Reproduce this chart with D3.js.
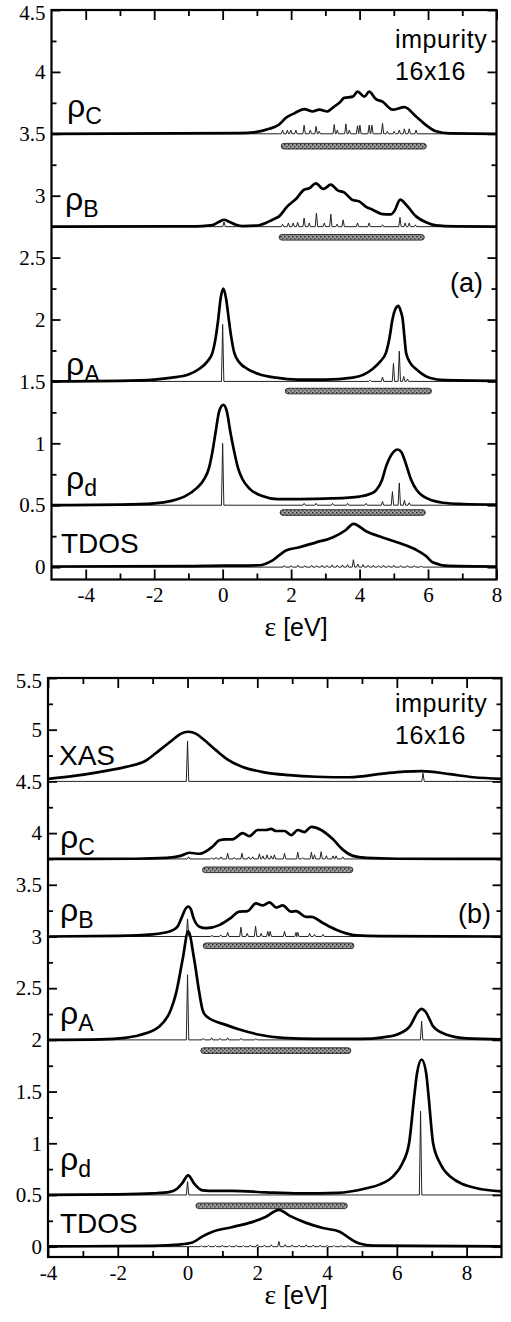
<!DOCTYPE html>
<html>
<head>
<meta charset="utf-8">
<script src="https://cdn.jsdelivr.net/npm/d3@7"></script>
<style>
  body { margin: 0; background: #fff; }
  svg { display: block; }
</style>
</head>
<body>
<svg id="fig" width="511" height="1322"></svg>
<script>
// ---------- tick values ----------
const a_x_major = [-4, -2, 0, 2, 4, 6, 8];
const a_x_minor = [-3, -1, 1, 3, 5, 7];
const a_y_major = [0, 0.5, 1, 1.5, 2, 2.5, 3, 3.5, 4, 4.5];
const a_y_minor = [0.25, 0.75, 1.25, 1.75, 2.25, 2.75, 3.25, 3.75, 4.25];
const b_x_major = [-4, -2, 0, 2, 4, 6, 8];
const b_x_minor = [-3, -1, 1, 3, 5, 7];
const b_y_major = [0, 0.5, 1, 1.5, 2, 2.5, 3, 3.5, 4, 4.5, 5, 5.5];
const b_y_minor = [0.25, 0.75, 1.25, 1.75, 2.25, 2.75, 3.25, 3.75, 4.25, 4.75, 5.25];

// ---------- panel (a) ----------
const a_labels = [["ρ", "C"], ["ρ", "B"], ["ρ", "A"], ["ρ", "d"], ["TDOS", ""]];
const a_base = [3.5, 2.75, 1.5, 0.5, 0];

const a_rhoC = [[-5,3.5],[0.5,3.505],[1.0,3.515],[1.36,3.54],[1.65,3.575],[1.85,3.63],[2.09,3.665],[2.38,3.70],[2.63,3.68],[2.82,3.695],[3.06,3.68],[3.21,3.71],[3.41,3.75],[3.55,3.79],[3.80,3.80],[3.94,3.84],[4.14,3.80],[4.28,3.84],[4.48,3.78],[4.67,3.76],[4.96,3.695],[5.31,3.715],[5.65,3.64],[5.94,3.57],[6.23,3.52],[6.62,3.503],[8,3.5]];
const a_rhoB = [[-5,2.75],[-1.5,2.752],[-0.6,2.755],[-0.3,2.762],[-0.1,2.79],[0.04,2.806],[0.19,2.79],[0.39,2.765],[0.58,2.755],[0.97,2.758],[1.26,2.78],[1.46,2.806],[1.65,2.833],[1.89,2.914],[2.14,2.973],[2.38,3.048],[2.53,3.06],[2.72,3.10],[2.94,3.054],[3.16,3.089],[3.36,3.043],[3.55,3.027],[3.78,2.968],[3.99,2.954],[4.19,2.909],[4.38,2.887],[4.67,2.852],[4.92,2.85],[5.01,2.873],[5.19,2.968],[5.36,2.927],[5.65,2.833],[5.94,2.785],[6.23,2.76],[6.8,2.752],[8,2.75]];
const a_rhoA = [[-5,1.50],[-3,1.505],[-2,1.515],[-1.48,1.53],[-1.0,1.555],[-0.69,1.60],[-0.45,1.66],[-0.30,1.73],[-0.2,1.86],[-0.13,2.0],[-0.06,2.17],[0.02,2.25],[0.1,2.17],[0.18,2.0],[0.25,1.86],[0.34,1.73],[0.5,1.65],[0.73,1.60],[1.05,1.56],[1.56,1.53],[2.2,1.515],[3.0,1.515],[3.8,1.53],[4.38,1.60],[4.6,1.66],[4.77,1.73],[4.88,1.86],[4.96,2.0],[5.04,2.08],[5.13,2.11],[5.2,2.07],[5.26,2.0],[5.31,1.86],[5.36,1.73],[5.48,1.65],[5.65,1.60],[6.04,1.53],[6.5,1.51],[8,1.505]];
const a_rhoD = [[-5,0.50],[-3,0.505],[-2,0.515],[-1.5,0.535],[-1.08,0.575],[-0.75,0.64],[-0.54,0.71],[-0.4,0.80],[-0.30,0.93],[-0.2,1.10],[-0.1,1.26],[0.02,1.31],[0.12,1.26],[0.22,1.10],[0.34,0.93],[0.45,0.80],[0.58,0.71],[0.8,0.63],[1.16,0.575],[1.6,0.55],[2.24,0.55],[3.2,0.555],[4.0,0.57],[4.3,0.59],[4.48,0.62],[4.65,0.70],[4.77,0.81],[4.96,0.92],[5.11,0.95],[5.22,0.93],[5.31,0.87],[5.5,0.71],[5.84,0.575],[6.43,0.52],[7,0.51],[8,0.505]];
const a_tdos = [[-5,0.005],[-1,0.008],[0,0.012],[0.5,0.012],[1.07,0.015],[1.46,0.055],[1.85,0.135],[2.24,0.16],[2.73,0.20],[3.21,0.24],[3.6,0.30],[3.82,0.35],[4.19,0.29],[4.67,0.24],[5.16,0.195],[5.65,0.14],[5.94,0.09],[6.13,0.04],[6.62,0.01],[8,0.005]];

// sharp spectra: [energy, height above baseline]
const a_rhoC_spk = [[1.75,0.03],[1.89,0.03],[1.99,0.03],[2.14,0.03],[2.38,0.07],[2.56,0.03],[2.73,0.06],[2.82,0.02],[3.26,0.075],[3.35,0.03],[3.60,0.08],[3.70,0.03],[3.94,0.065],[4.01,0.07],[4.28,0.07],[4.36,0.07],[4.67,0.085],[4.81,0.02],[5.01,0.02],[5.16,0.03],[5.31,0.04],[5.45,0.04],[5.65,0.03]];
const a_rhoB_spk = [[0.04,0.04],[1.75,0.02],[1.92,0.03],[2.06,0.03],[2.19,0.035],[2.38,0.07],[2.53,0.03],[2.74,0.11],[2.97,0.03],[3.16,0.10],[3.34,0.02],[3.52,0.055],[3.94,0.03],[4.28,0.03],[4.67,0.015],[5.18,0.075],[5.33,0.03],[5.45,0.03],[5.63,0.015]];
const a_rhoA_spk = [[0,0.46],[4.3,0.01],[4.67,0.035],[4.99,0.145],[5.16,0.245],[5.29,0.04],[5.4,0.02]];
const a_rhoD_spk = [[0,0.5],[2.38,0.015],[2.73,0.015],[3.21,0.015],[3.65,0.015],[4.19,0.015],[4.67,0.03],[4.96,0.11],[5.16,0.18],[5.31,0.04],[5.45,0.02]];
const a_tdos_spk = [[1.8,0.012],[2.0,0.012],[2.2,0.015],[2.4,0.012],[2.6,0.015],[2.75,0.012],[2.9,0.015],[3.05,0.012],[3.2,0.018],[3.35,0.015],[3.5,0.018],[3.65,0.02],[3.82,0.06],[3.95,0.025],[4.1,0.02],[4.25,0.015],[4.4,0.015],[4.55,0.012],[4.7,0.015],[4.85,0.012],[5.0,0.015],[5.2,0.012],[5.4,0.012],[5.6,0.012],[5.8,0.01]];

// band ranges shown as grey bars: [from, to, level]
const a_bars = [[1.71,5.95,3.40],[1.65,5.89,2.664],[1.83,6.10,1.422],[1.68,5.92,0.441]];

// ---------- panel (b) ----------
const b_labels = [["XAS", ""], ["ρ", "C"], ["ρ", "B"], ["ρ", "A"], ["ρ", "d"], ["TDOS", ""]];
const b_base = [4.5, 3.75, 3.0, 2.0, 0.5, 0];

const b_xas = [[-4,4.525],[-3.2,4.555],[-2.54,4.59],[-1.77,4.64],[-1.2,4.70],[-0.81,4.80],[-0.43,4.90],[-0.2,4.96],[0.02,4.98],[0.25,4.96],[0.48,4.90],[0.82,4.80],[1.2,4.70],[1.58,4.64],[2.16,4.59],[2.92,4.56],[3.69,4.545],[4.65,4.54],[5.6,4.575],[6.2,4.595],[6.71,4.60],[7.52,4.57],[8.19,4.54],[9,4.525]];
const b_rhoC = [[-4,3.75],[-1.5,3.752],[-0.6,3.76],[-0.2,3.78],[0.05,3.81],[0.34,3.80],[0.72,3.87],[0.91,3.93],[1.10,3.94],[1.29,3.94],[1.58,4.0],[1.77,3.97],[2.01,4.03],[2.25,4.03],[2.39,4.04],[2.54,4.02],[2.78,4.02],[2.97,3.98],[3.16,4.03],[3.35,4.01],[3.55,4.06],[3.83,4.03],[4.17,3.94],[4.45,3.84],[4.74,3.78],[5.13,3.76],[6,3.752],[9,3.75]];
const b_rhoB = [[-4,3.0],[-2,3.005],[-1,3.02],[-0.5,3.05],[-0.3,3.09],[-0.16,3.19],[-0.07,3.26],[0.02,3.29],[0.1,3.26],[0.16,3.19],[0.34,3.095],[0.53,3.08],[0.91,3.11],[1.20,3.17],[1.49,3.24],[1.72,3.245],[1.96,3.32],[2.16,3.30],[2.35,3.33],[2.54,3.28],[2.73,3.30],[2.97,3.24],[3.11,3.245],[3.40,3.19],[3.55,3.19],[3.88,3.13],[4.26,3.065],[4.55,3.03],[4.84,3.01],[5.5,3.003],[9,3.0]];
const b_rhoA = [[-4,2.0],[-2.5,2.005],[-1.8,2.02],[-1.39,2.045],[-0.81,2.13],[-0.48,2.29],[-0.33,2.45],[-0.14,2.78],[0.02,3.05],[0.19,2.78],[0.34,2.45],[0.43,2.29],[0.53,2.23],[1.10,2.145],[1.49,2.10],[2.06,2.05],[2.73,2.02],[3.69,2.01],[5,2.01],[5.6,2.025],[5.99,2.05],[6.37,2.13],[6.47,2.19],[6.6,2.27],[6.71,2.30],[6.83,2.27],[6.95,2.19],[7.04,2.13],[7.43,2.05],[8,2.015],[9,2.005]];
const b_rhoD = [[-4,0.50],[-2,0.505],[-1,0.515],[-0.5,0.53],[-0.3,0.56],[-0.16,0.61],[0.02,0.69],[0.19,0.61],[0.43,0.545],[0.8,0.54],[1.29,0.54],[2.25,0.525],[3.21,0.515],[4.3,0.52],[5.13,0.565],[5.5,0.60],[5.89,0.68],[6.15,0.80],[6.35,1.0],[6.51,1.49],[6.58,1.68],[6.71,1.81],[6.84,1.68],[6.90,1.49],[7.04,1.0],[7.25,0.80],[7.52,0.68],[8.29,0.565],[9,0.535]];
const b_tdos = [[-4,0.003],[-1,0.008],[-0.24,0.02],[0.14,0.04],[0.43,0.10],[0.72,0.145],[1.29,0.19],[1.87,0.24],[2.25,0.29],[2.62,0.355],[2.92,0.30],[3.40,0.23],[3.88,0.18],[4.36,0.145],[4.65,0.08],[4.93,0.03],[5.32,0.01],[9,0.003]];

const b_xas_spk = [[0,0.39],[6.75,0.08]];
const b_rhoC_spk = [[0.03,0.02],[0.69,0.01],[0.82,0.015],[0.96,0.02],[1.15,0.055],[1.34,0.015],[1.56,0.055],[1.75,0.02],[1.87,0.02],[2.06,0.05],[2.16,0.03],[2.28,0.04],[2.40,0.03],[2.49,0.04],[2.78,0.055],[3.16,0.065],[3.3,0.01],[3.55,0.065],[3.64,0.04],[3.83,0.07],[3.98,0.03],[4.17,0.03],[4.26,0.03],[4.45,0.02]];
const b_rhoB_spk = [[0,0.17],[0.7,0.01],[0.95,0.015],[1.15,0.04],[1.53,0.09],[1.71,0.03],[1.95,0.10],[2.11,0.03],[2.30,0.05],[2.37,0.05],[2.78,0.05],[3.11,0.04],[3.16,0.04],[3.50,0.03],[3.64,0.02],[3.88,0.02]];
const b_rhoA_spk = [[0,0.63],[0.45,0.015],[0.69,0.02],[0.93,0.015],[1.15,0.02],[1.53,0.015],[1.96,0.012],[6.71,0.18]];
const b_rhoD_spk = [[0,0.13],[6.68,0.81]];
const b_tdos_spk = [[0.4,0.01],[0.6,0.012],[0.8,0.012],[1.0,0.015],[1.2,0.012],[1.4,0.015],[1.6,0.012],[1.8,0.015],[2.0,0.02],[2.2,0.015],[2.4,0.018],[2.62,0.05],[2.8,0.02],[3.0,0.018],[3.2,0.015],[3.4,0.018],[3.6,0.015],[3.8,0.015],[4.0,0.012],[4.2,0.012],[4.4,0.01],[4.6,0.01]];

const b_bars = [[0.43,4.74,3.645],[0.45,4.77,2.91],[0.38,4.68,1.896],[0.24,4.58,0.395]];

// ---------- drawing ----------
const svg = d3.select("#fig");
const serif = "'Liberation Serif', 'Times New Roman', serif";
const sans = "'Liberation Sans', Arial, sans-serif";

// speckled grey fill for the band bars
const defs = svg.append("defs");
const pat = defs.append("pattern").attr("id", "speck")
  .attr("width", 4).attr("height", 4).attr("patternUnits", "userSpaceOnUse");
pat.append("rect").attr("width", 4).attr("height", 4).attr("fill", "#9c9c9c");
pat.append("rect").attr("x", 0).attr("y", 0).attr("width", 1.5).attr("height", 1.5).attr("fill", "#2a2a2a");
pat.append("rect").attr("x", 2).attr("y", 2).attr("width", 1.5).attr("height", 1.5).attr("fill", "#444");

function spike_points(spikes, base, x0, x1, w) {
  const pts = [[x0, base]];
  spikes.slice().sort((p, q) => p[0] - q[0]).forEach(s => {
    pts.push([s[0] - w, base], [s[0], base + s[1]], [s[0] + w, base]);
  });
  pts.push([x1, base]);
  return pts;
}

function panel(p) {
  const x = d3.scaleLinear().domain(p.xdom).range([p.left, p.right]);
  const y = d3.scaleLinear().domain(p.ydom).range([p.bottom, p.top]);
  const g = svg.append("g");

  defs.append("clipPath").attr("id", p.id + "clip")
    .append("rect").attr("x", p.left).attr("y", p.top)
    .attr("width", p.right - p.left).attr("height", p.bottom - p.top);

  const plot = g.append("g").attr("clip-path", `url(#${p.id}clip)`);

  // grey band bars
  plot.selectAll("rect.bar").data(p.bars).enter().append("rect")
    .attr("class", "bar")
    .attr("x", d => x(d[0]))
    .attr("y", d => y(d[2]) - 2.8)
    .attr("width", d => x(d[1]) - x(d[0]))
    .attr("height", 5.6)
    .attr("rx", 2.8)
    .attr("fill", "url(#speck)")
    .attr("stroke", "#333")
    .attr("stroke-width", 1);

  const line = d3.line().x(d => x(d[0])).y(d => y(d[1]));
  const smooth = d3.line().x(d => x(d[0])).y(d => y(d[1])).curve(d3.curveMonotoneX);

  p.spikes.forEach((s, i) => {
    plot.append("path")
      .attr("d", line(spike_points(s, p.base[i], p.xdom[0], p.xdom[1], 0.035)))
      .attr("fill", "none").attr("stroke", "#222").attr("stroke-width", 1);
  });
  p.curves.forEach(c => {
    plot.append("path")
      .attr("d", smooth(c))
      .attr("fill", "none").attr("stroke", "#000")
      .attr("stroke-width", 2.7).attr("stroke-linejoin", "round");
  });

  // axes, ticks pointing inward
  const axes = [
    [d3.axisBottom(x).tickValues(p.xmajor).tickSize(-10).tickPadding(8).tickFormat(d => String(d)), `translate(0,${p.bottom})`],
    [d3.axisBottom(x).tickValues(p.xminor).tickSize(-6).tickFormat(""), `translate(0,${p.bottom})`],
    [d3.axisTop(x).tickValues(p.xmajor).tickSize(-10).tickFormat(""), `translate(0,${p.top})`],
    [d3.axisTop(x).tickValues(p.xminor).tickSize(-6).tickFormat(""), `translate(0,${p.top})`],
    [d3.axisLeft(y).tickValues(p.ymajor).tickSize(-9).tickPadding(6).tickFormat(d => String(d)), `translate(${p.left},0)`],
    [d3.axisLeft(y).tickValues(p.yminor).tickSize(-5).tickFormat(""), `translate(${p.left},0)`],
    [d3.axisRight(y).tickValues(p.ymajor).tickSize(-9).tickFormat(""), `translate(${p.right},0)`],
    [d3.axisRight(y).tickValues(p.yminor).tickSize(-5).tickFormat(""), `translate(${p.right},0)`]
  ];
  axes.forEach(([ax, tr]) => {
    const a = g.append("g").attr("transform", tr).call(ax)
      .attr("font-family", serif).attr("font-size", 21);
    a.select(".domain").remove();
    a.selectAll("line").attr("stroke", "#000").attr("stroke-width", 1.8);
    a.selectAll("text").attr("fill", "#000");
  });
  // keep the top y label inside the page edge
  g.selectAll(".tick text").filter(d => d === p.ydom[1]).attr("dy", "0.45em");

  g.append("rect").attr("x", p.left).attr("y", p.top)
    .attr("width", p.right - p.left).attr("height", p.bottom - p.top)
    .attr("fill", "none").attr("stroke", "#000").attr("stroke-width", 2.2);

  // curve names
  p.labels.forEach((l, i) => {
    const t = g.append("text").attr("x", p.labpos[i][0]).attr("y", p.labpos[i][1])
      .attr("font-family", sans).attr("fill", "#000");
    if (l[1] === "") {
      t.attr("font-size", 28).text(l[0]);
    } else {
      t.append("tspan").attr("font-size", 32).text(l[0]);
      t.append("tspan").attr("font-size", 23).attr("dy", 7).text(l[1]);
    }
  });

  g.append("text").attr("x", p.imp[0]).attr("y", p.imp[1])
    .attr("font-family", sans).attr("font-size", 25).attr("letter-spacing", 0.6).text("impurity");
  g.append("text").attr("x", p.imp[0]).attr("y", p.imp[1] + 32)
    .attr("font-family", sans).attr("font-size", 25).attr("letter-spacing", 0.6).text("16x16");
  g.append("text").attr("x", p.tag[0]).attr("y", p.tag[1])
    .attr("font-family", sans).attr("font-size", 27).text(p.tagText);

  const xt = g.append("text").attr("x", p.xtitle[0]).attr("y", p.xtitle[1])
    .attr("text-anchor", "middle").attr("fill", "#000");
  xt.append("tspan").attr("font-family", serif).attr("font-size", 28).text("ε ");
  xt.append("tspan").attr("font-family", sans).attr("font-size", 25).text("[eV]");
}

panel({
  id: "a", xdom: [-5, 8], ydom: [-0.1, 4.5],
  left: 51.5, right: 496.5, top: 10, bottom: 579.5,
  xmajor: a_x_major, xminor: a_x_minor, ymajor: a_y_major, yminor: a_y_minor,
  base: a_base,
  curves: [a_rhoC, a_rhoB, a_rhoA, a_rhoD, a_tdos],
  spikes: [a_rhoC_spk, a_rhoB_spk, a_rhoA_spk, a_rhoD_spk, a_tdos_spk],
  bars: a_bars,
  labels: a_labels,
  labpos: [[67, 117], [65, 210], [66, 375], [66, 489], [61, 553]],
  imp: [395, 48], tag: [450, 292], tagText: "(a)",
  xtitle: [296, 636]
});

panel({
  id: "b", xdom: [-4, 9], ydom: [-0.1, 5.5],
  left: 48, right: 501.5, top: 678, bottom: 1257,
  xmajor: b_x_major, xminor: b_x_minor, ymajor: b_y_major, yminor: b_y_minor,
  base: b_base,
  curves: [b_xas, b_rhoC, b_rhoB, b_rhoA, b_rhoD, b_tdos],
  spikes: [b_xas_spk, b_rhoC_spk, b_rhoB_spk, b_rhoA_spk, b_rhoD_spk, b_tdos_spk],
  bars: b_bars,
  labels: b_labels,
  labpos: [[59, 765], [60, 848], [60, 921], [60, 1024], [60, 1170], [60, 1233]],
  imp: [395, 712], tag: [458, 923], tagText: "(b)",
  xtitle: [296, 1304]
});
</script>
</body>
</html>
